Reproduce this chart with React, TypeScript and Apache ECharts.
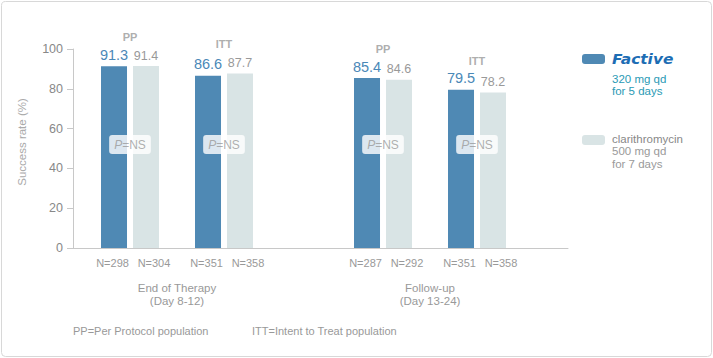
import React, { useEffect, useRef } from 'react';
import * as echarts from 'echarts';

// ---- data ----
const timepoints = ['End of Therapy\n(Day 8-12)', 'Follow-up\n(Day 13-24)'];
const populations = ['PP', 'ITT'];
const factiveEOT = [91.3, 86.6];
const clarEOT = [91.4, 87.7];
const factiveFU = [85.4, 79.5];
const clarFU = [84.6, 78.2];
const factiveN_EOT = [298, 351];
const clarN_EOT = [304, 358];
const factiveN_FU = [287, 351];
const clarN_FU = [292, 358];
const pValuesEOT = ['NS', 'NS'];
const pValuesFU = ['NS', 'NS'];
const yMin = 0;
const yMax = 100;
const yInterval = 20;
const seriesNames = ['Factive', 'clarithromycin'];
const factiveDose = ['320 mg qd', 'for 5 days'];
const clarDose = ['500 mg qd', 'for 7 days'];
const footnotes = ['PP=Per Protocol population', 'ITT=Intent to Treat population'];
const yAxisTitle = 'Success rate (%)';

// ---- style / layout ----
const FONT = '"Liberation Sans", Arial, sans-serif';
const FACTIVE_COLOR = '#4f89b4';
const CLAR_COLOR = '#d9e4e5';
const AXIS_COLOR = '#c8c8c8';
const PBOX_Y = 52;
const N_LABEL_OFFSETS = [-1.5, 8];

const factive = [factiveEOT, factiveFU];
const clar = [clarEOT, clarFU];
const factiveN = [factiveN_EOT, factiveN_FU];
const clarN = [clarN_EOT, clarN_FU];
const pValues = [pValuesEOT, pValuesFU];

function buildOption(): any {
  const series: any[] = [];
  [0, 1].forEach((t) => {
    const common = {
      type: 'bar',
      xAxisIndex: 1 + t,
      yAxisIndex: 1 + t,
      barWidth: 26,
      barGap: '23%',
      silent: true,
    };
    series.push({
      ...common,
      name: seriesNames[0],
      data: factive[t],
      itemStyle: { color: FACTIVE_COLOR },
      label: { show: true, position: 'top', distance: 4, color: '#4a88b7', fontSize: 14.5, fontFamily: FONT },
    });
    series.push({
      ...common,
      name: seriesNames[1],
      data: clar[t],
      itemStyle: { color: CLAR_COLOR },
      label: { show: true, position: 'top', distance: 4, color: '#999', fontSize: 12.5, fontFamily: FONT },
    });
    // N labels under bars
    [factiveN[t], clarN[t]].forEach((arr, k) => {
      series.push({
        type: 'bar',
        xAxisIndex: 3 + t,
        yAxisIndex: 1 + t,
        barWidth: 26,
        barGap: '23%',
        silent: true,
        data: arr.map((n) => ({ value: 0, n })),
        itemStyle: { color: 'rgba(0,0,0,0)' },
        label: {
          show: true,
          position: 'bottom',
          distance: 9,
          offset: [N_LABEL_OFFSETS[k], 0],
          color: '#999',
          fontSize: 11,
          fontFamily: FONT,
          formatter: (p: any) => 'N=' + p.data.n,
        },
      });
    });
    // group labels PP / ITT
    series.push({
      type: 'scatter',
      xAxisIndex: 1 + t,
      yAxisIndex: 1 + t,
      silent: true,
      symbolSize: 1,
      itemStyle: { color: 'rgba(0,0,0,0)' },
      z: 5,
      data: populations.map((_, i) => Math.max(factive[t][i], clar[t][i])),
      label: {
        show: true,
        position: 'top',
        distance: 23,
        color: '#999',
        fontSize: 11,
        fontWeight: 'bold',
        fontFamily: FONT,
        formatter: (p: any) => populations[p.dataIndex],
      },
    });
    // P=NS boxes
    series.push({
      type: 'scatter',
      xAxisIndex: 1 + t,
      yAxisIndex: 1 + t,
      silent: true,
      symbolSize: 1,
      itemStyle: { color: 'rgba(0,0,0,0)' },
      z: 6,
      data: populations.map(() => PBOX_Y),
      label: {
        show: true,
        position: 'inside',
        formatter: (p: any) => '{i|P}=' + pValues[t][p.dataIndex],
        backgroundColor: '#fff',
        borderRadius: 3,
        padding: [3, 5, 3, 5],
        color: '#9a9a9a',
        fontSize: 12,
        lineHeight: 13,
        fontFamily: FONT,
        rich: { i: { fontStyle: 'italic', color: '#9a9a9a', fontSize: 12, lineHeight: 13, fontFamily: FONT } },
      },
    });
  });

  const legendText = (x: number, y: number, text: string, color: string, extra: any = {}) => ({
    type: 'text',
    x,
    y,
    silent: true,
    style: {
      text,
      fill: color,
      fontSize: 11.5,
      fontFamily: FONT,
      align: 'left',
      verticalAlign: 'middle',
      textAlign: 'left',
      textVerticalAlign: 'middle',
      ...extra,
    },
  });

  const graphic: any[] = [
    {
      type: 'rect',
      shape: { x: 1.5, y: 1.5, width: 710, height: 355, r: 4 },
      style: { fill: 'none', stroke: '#d8d8d8', lineWidth: 1 },
      silent: true,
      z: -10,
    },
    {
      type: 'text',
      x: 22,
      y: 142,
      rotation: Math.PI / 2,
      silent: true,
      style: {
        text: yAxisTitle,
        fill: '#aaa',
        fontSize: 11.5,
        fontFamily: FONT,
        align: 'center',
        verticalAlign: 'middle',
        textAlign: 'center',
        textVerticalAlign: 'middle',
      },
    },
    {
      type: 'rect',
      shape: { x: 582, y: 54, width: 23, height: 10, r: 3 },
      style: { fill: FACTIVE_COLOR },
      silent: true,
    },
    {
      type: 'text',
      x: 612,
      y: 59,
      scaleX: 1.1,
      silent: true,
      style: {
        text: seriesNames[0],
        fill: '#1d6db4',
        fontSize: 14,
        fontWeight: 'bold',
        fontStyle: 'italic',
        fontFamily: '"DejaVu Sans", sans-serif',
        align: 'left',
        verticalAlign: 'middle',
        textAlign: 'left',
        textVerticalAlign: 'middle',
      },
    },
    legendText(612, 79, factiveDose[0], '#2a9ab5'),
    legendText(612, 91, factiveDose[1], '#2a9ab5'),
    {
      type: 'rect',
      shape: { x: 582, y: 135, width: 23, height: 10, r: 3 },
      style: { fill: CLAR_COLOR },
      silent: true,
    },
    legendText(612, 138.5, seriesNames[1], '#888'),
    legendText(612, 151, clarDose[0], '#9a9a9a'),
    legendText(612, 164, clarDose[1], '#9a9a9a'),
    legendText(73, 331, footnotes[0], '#999', { fontSize: 11 }),
    legendText(252, 331, footnotes[1], '#999', { fontSize: 11 }),
  ];

  return {
    animation: false,
    textStyle: { fontFamily: FONT },
    grid: [
      { left: 73, top: 49, width: 495, height: 199 },
      { left: 83, top: 49, width: 188, height: 199 },
      { left: 336, top: 49, width: 188, height: 199 },
    ],
    xAxis: [
      {
        gridIndex: 0,
        type: 'value',
        min: 0,
        max: 1,
        axisLine: { show: true, lineStyle: { color: AXIS_COLOR } },
        axisTick: { show: false },
        axisLabel: { show: false },
        splitLine: { show: false },
      },
      ...[0, 1].map((t) => ({
        gridIndex: 1 + t,
        type: 'category',
        data: populations,
        axisLine: { show: false },
        axisTick: { show: false },
        axisLabel: { show: false },
        splitLine: { show: false },
        name: timepoints[t],
        nameLocation: 'middle',
        nameGap: 33,
        nameTextStyle: { color: '#999', fontSize: 11.5, lineHeight: 13, fontFamily: FONT },
      })),
      ...[0, 1].map((t) => ({
        gridIndex: 1 + t,
        type: 'category',
        data: populations,
        show: false,
      })),
    ],
    yAxis: [
      {
        gridIndex: 0,
        type: 'value',
        min: yMin,
        max: yMax,
        interval: yInterval,
        axisLine: { show: true, lineStyle: { color: AXIS_COLOR } },
        axisTick: { show: true, length: 6, lineStyle: { color: AXIS_COLOR } },
        axisLabel: { color: '#888', fontSize: 12.5, margin: 10, fontFamily: FONT },
        splitLine: { show: false },
      },
      { gridIndex: 1, type: 'value', min: yMin, max: yMax, show: false },
      { gridIndex: 2, type: 'value', min: yMin, max: yMax, show: false },
    ],
    series,
    graphic,
  };
}

export default function App() {
  const ref = useRef<HTMLDivElement>(null);
  useEffect(() => {
    document.body.style.margin = '0';
    if (!ref.current) return;
    const chart = echarts.init(ref.current, undefined, { renderer: 'svg' });
    chart.setOption(buildOption());
    return () => chart.dispose();
  }, []);
  return <div ref={ref} style={{ width: 713, height: 358, background: '#fff' }} />;
}
